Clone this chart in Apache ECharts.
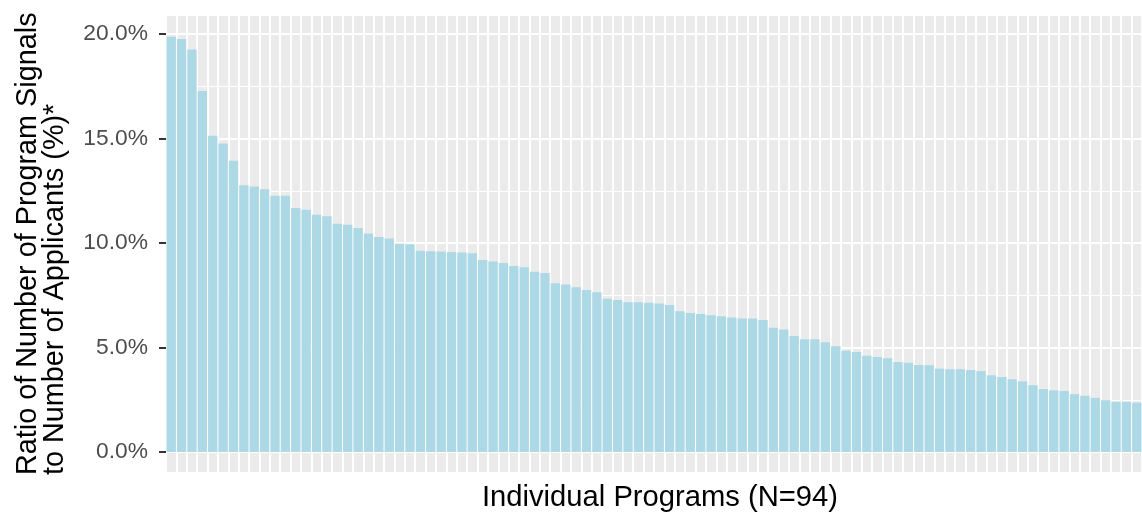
<!DOCTYPE html>
<html>
<head>
<meta charset="utf-8">
<script src="https://cdn.jsdelivr.net/npm/echarts@6/dist/echarts.min.js"></script>
<style>
html,body{margin:0;padding:0;background:#fff;}
#chart{width:1142px;height:517px;}
</style>
</head>
<body>
<div id="chart"></div>
<script>
// Ratio of program signals to applicants (%), sorted descending, one value per program
const ratios = [
  19.87, 19.76, 19.26, 17.27, 15.13, 14.76, 13.94, 12.76, 12.70, 12.57,
  12.26, 12.26, 11.68, 11.59, 11.35, 11.28, 10.92, 10.87, 10.72, 10.45,
  10.29, 10.21, 9.97, 9.94, 9.63, 9.61, 9.59, 9.57, 9.54, 9.51,
  9.19, 9.11, 9.04, 8.90, 8.84, 8.63, 8.57, 8.07, 8.01, 7.88,
  7.75, 7.64, 7.33, 7.27, 7.17, 7.17, 7.14, 7.11, 7.03, 6.74,
  6.65, 6.60, 6.54, 6.50, 6.44, 6.39, 6.39, 6.31, 5.95, 5.86,
  5.55, 5.39, 5.39, 5.25, 5.06, 4.85, 4.79, 4.61, 4.55, 4.48,
  4.31, 4.27, 4.16, 4.15, 3.99, 3.96, 3.96, 3.92, 3.87, 3.67,
  3.59, 3.48, 3.38, 3.20, 3.01, 2.95, 2.92, 2.77, 2.69, 2.59,
  2.48, 2.40, 2.40, 2.36
];
const programs = ratios.map((_, i) => 'Program ' + (i + 1));
const yTickMin = 0;
const yTickMax = 20;
const yTickStep = 5;
const xTitle = 'Individual Programs (N=94)';
const yTitle = 'Ratio of Number of Program Signals\nto Number of Applicants (%)*';

const FONT = '"Liberation Sans", Arial, sans-serif';
const PANEL = '#EBEBEB';
const GL = 166, GW = 985;

function catAxis(gi, extra) {
  return Object.assign({
    type: 'category', gridIndex: gi, data: programs, boundaryGap: true,
    axisLine: {show: false}, axisTick: {show: false},
    axisLabel: {show: false, interval: 0},
    splitLine: {show: true, interval: 0, lineStyle: {color: '#FFFFFF', width: 2}}
  }, extra || {});
}

const chart = echarts.init(document.getElementById('chart'), null, {renderer: 'canvas'});
chart.setOption({
  animation: false,
  backgroundColor: '#FFFFFF',
  grid: [
    {left: GL, top: 34, width: GW, height: 418, show: true, backgroundColor: PANEL, borderWidth: 0},
    {left: GL, top: 452, width: GW, height: 20, show: true, backgroundColor: PANEL, borderWidth: 0},
    {left: GL, top: 16, width: GW, height: 18, show: true, backgroundColor: PANEL, borderWidth: 0}
  ],
  xAxis: [
    catAxis(0),
    catAxis(1, {
      name: xTitle, nameLocation: 'middle', nameGap: 11,
      nameTextStyle: {fontFamily: FONT, fontSize: 29.2, color: '#000000', padding: [0, 0, 0, 12]}
    }),
    catAxis(2)
  ],
  yAxis: [
    {
      type: 'value', gridIndex: 0, min: yTickMin, max: yTickMax, interval: yTickStep,
      axisLine: {show: false},
      axisTick: {show: true, length: 7, lineStyle: {color: '#333333', width: 2}},
      axisLabel: {
        margin: 18, fontFamily: FONT, fontSize: 22.8, color: '#4D4D4D',
        formatter: v => v.toFixed(1) + '%'
      },
      splitLine: {show: true, lineStyle: {color: '#FFFFFF', width: 2.2}},
      minorTick: {show: false, splitNumber: 2},
      minorSplitLine: {show: true, lineStyle: {color: '#FFFFFF', width: 1.2}}
    },
    {type: 'value', gridIndex: 1, min: 0, max: 1, show: false},
    {type: 'value', gridIndex: 2, min: 0, max: 1, show: false}
  ],
  series: [{
    type: 'bar', xAxisIndex: 0, yAxisIndex: 0, data: ratios,
    barCategoryGap: '10%', silent: true,
    itemStyle: {color: '#ADD8E6'}
  }],
  graphic: [{
    type: 'text', x: 14, y: 475, rotation: Math.PI / 2, silent: true,
    style: {
      text: yTitle, font: '28.8px ' + FONT, fill: '#000000',
      align: 'left', verticalAlign: 'top', lineHeight: 27.5
    }
  }]
});
</script>
</body>
</html>
